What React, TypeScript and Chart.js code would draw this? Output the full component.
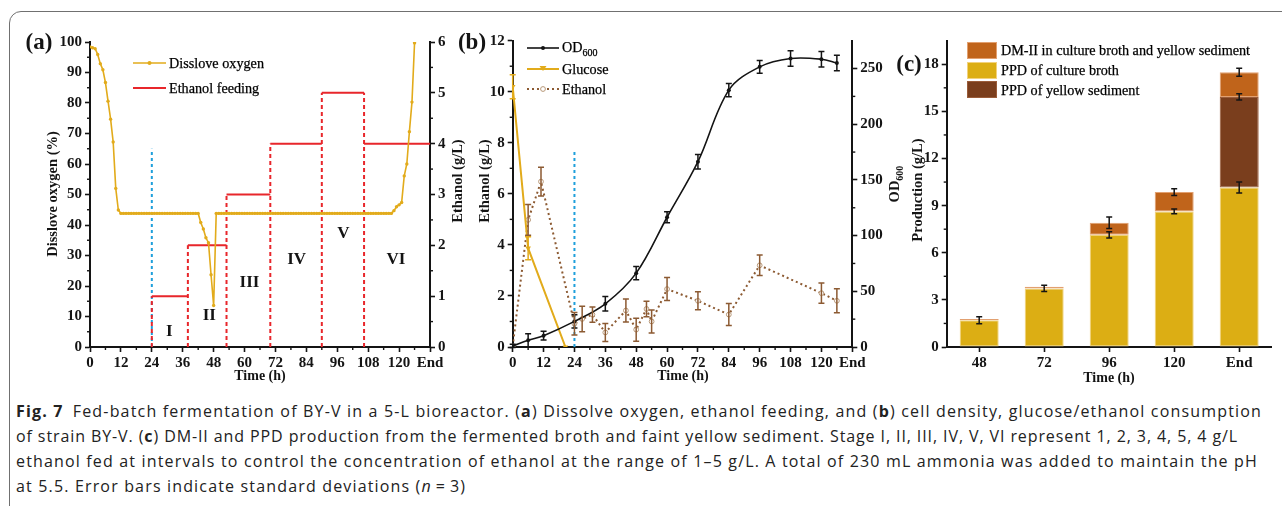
import React, { useEffect, useLayoutEffect, useRef } from 'react';
import { Chart, registerables } from 'chart.js';

Chart.register(...registerables);

const SERIF = "'Liberation Serif', 'Times New Roman', Times, serif";
const SANS = "'Open Sans', 'Noto Sans', sans-serif";
const INK = '#141414';
const GOLD = '#E2AB1B';
const RED = '#E8262B';
const BLUE = '#1E9FDB';
const BROWN = '#8C5A32';
const BROTH = '#DCAE14';
const SEDIMENT = '#7A3E1D';
const DMII = '#C0641B';

// ---------- shared time axis ----------
const timeTickValues = [0, 12, 24, 36, 48, 60, 72, 84, 96, 108, 120, 132];
const timeTickLabels = ['0', '12', '24', '36', '48', '60', '72', '84', '96', '108', '120', 'End'];

// ---------- panel (a) ----------
const doTime = [
  0, 1, 2, 3, 4, 5, 6, 7, 8, 9, 10, 11, 12, 13, 14, 15, 16, 17, 18, 19, 20, 21, 22, 23, 24, 25, 26, 27, 28, 29,
  30, 31, 32, 33, 34, 35, 36, 37, 38, 39, 40, 41, 42, 43, 44, 45, 46, 47, 48, 49, 50, 51, 52, 53, 54, 55, 56, 57, 58, 59,
  60, 61, 62, 63, 64, 65, 66, 67, 68, 69, 70, 71, 72, 73, 74, 75, 76, 77, 78, 79, 80, 81, 82, 83, 84, 85, 86, 87, 88, 89,
  90, 91, 92, 93, 94, 95, 96, 97, 98, 99, 100, 101, 102, 103, 104, 105, 106, 107, 108, 109, 110, 111, 112, 113, 114, 115, 116, 117, 118, 119,
  120, 121, 122, 123, 124, 125, 126,
];
const doValue = [
  98.4, 98.1, 97.8, 95.9, 92.9, 90.9, 86.7, 80.6, 74.7, 67.2, 52.0, 44.9, 43.8, 43.8, 43.8, 43.8, 43.8, 43.8, 43.8, 43.8, 43.8, 43.8, 43.8, 43.8, 43.8, 43.8, 43.8, 43.8, 43.8, 43.8,
  43.8, 43.8, 43.8, 43.8, 43.8, 43.8, 43.8, 43.8, 43.8, 43.8, 43.8, 43.8, 43.8, 40.8, 38.7, 35.8, 34.2, 23.7, 13.6, 43.8, 43.8, 43.8, 43.8, 43.8, 43.8, 43.8, 43.8, 43.8, 43.8, 43.8,
  43.8, 43.8, 43.8, 43.8, 43.8, 43.8, 43.8, 43.8, 43.8, 43.8, 43.8, 43.8, 43.8, 43.8, 43.8, 43.8, 43.8, 43.8, 43.8, 43.8, 43.8, 43.8, 43.8, 43.8, 43.8, 43.8, 43.8, 43.8, 43.8, 43.8,
  43.8, 43.8, 43.8, 43.8, 43.8, 43.8, 43.8, 43.8, 43.8, 43.8, 43.8, 43.8, 43.8, 43.8, 43.8, 43.8, 43.8, 43.8, 43.8, 43.8, 43.8, 43.8, 43.8, 43.8, 43.8, 43.8, 43.8, 43.8, 44.7, 46.0,
  46.6, 47.4, 56.1, 60.0, 70.6, 80.3, 99.7,
];
const feedStart = [24, 38, 53, 70, 90, 106.4];
const feedEnd = [38, 53, 70, 90, 106.4, 132];
const feedLevel = [1, 2, 3, 4, 5, 4];
const cutoffTime = 24;
const cutoffTopA = 65;
const stageNames = ['I', 'II', 'III', 'IV', 'V', 'VI'];
const stageLabelTime = [30.8, 46.3, 61.9, 80.2, 98.4, 118.8];
const stageLabelDO = [5.1, 10.3, 21, 28.6, 37.3, 28.6];

// ---------- panel (b) ----------
const odTime = [0, 6, 12, 24, 36, 48, 60, 72, 84, 96, 108, 120, 126];
const odValue = [1, 6, 10.2, 23, 38.8, 66.3, 116.5, 166.4, 230.6, 251.5, 259, 258.4, 255];
const odErr = [1.5, 6, 4, 6, 6.5, 6, 5, 6.5, 6, 5.7, 7, 7, 7];
const glucoseTime = [0, 6, 20.5];
const glucoseValue = [10.2, 3.87, 0];
const glucoseErr = [0.47, 0.45, 0];
const ethTime = [0, 6, 11, 24, 27, 31, 36, 44, 48, 52, 54, 60, 72, 84, 96, 120, 126];
const ethValue = [0.03, 4.98, 6.48, 0.91, 1.1, 1.27, 0.57, 1.43, 0.68, 1.49, 1.0, 2.27, 1.81, 1.27, 3.2, 2.11, 1.81];
const ethErr = [0, 0.6, 0.56, 0.44, 0.5, 0.3, 0.35, 0.45, 0.45, 0.3, 0.45, 0.45, 0.35, 0.43, 0.4, 0.4, 0.47];
const cutoffTopB = 7.75;

// ---------- panel (c) ----------
const cLabels = ['48', '72', '96', '120', 'End'];
const brothValue = [1.7, 3.73, 7.14, 8.63, 10.15];
const brothErr = [0.22, 0.2, 0.2, 0.15, 0.35];
const sedimentValue = [0, 0, 0, 0, 5.77];
const sedimentErr = [0, 0, 0, 0, 0.2];
const dmValue = [0.08, 0.11, 0.77, 1.23, 1.57];
const dmErr = [0, 0, 0.37, 0.22, 0.25];

// ---------- plugins ----------
const errorBarPlugin = {
  id: 'errorBars',
  afterDatasetsDraw(chart: any) {
    const ctx = chart.ctx;
    chart.data.datasets.forEach((ds: any, i: number) => {
      const errs = ds.errorBars;
      if (!errs) return;
      const meta = chart.getDatasetMeta(i);
      const ys = chart.scales[meta.yAxisID];
      ctx.save();
      ctx.strokeStyle = ds.errorColor || INK;
      ctx.lineWidth = ds.errorWidth || 1.5;
      meta.data.forEach((el: any, j: number) => {
        const e = errs[j];
        if (!e) return;
        const v = ys.getValueForPixel(el.y);
        const top = ys.getPixelForValue(v + e);
        const bot = ys.getPixelForValue(v - e);
        const x = el.x;
        const c = ds.errorCap ?? 3;
        ctx.beginPath();
        ctx.moveTo(x, top); ctx.lineTo(x, bot);
        ctx.moveTo(x - c, top); ctx.lineTo(x + c, top);
        ctx.moveTo(x - c, bot); ctx.lineTo(x + c, bot);
        ctx.stroke();
      });
      ctx.restore();
    });
  },
};

function makeMinorTicks(spec: Record<string, number>, len = 3) {
  return {
    id: 'minorTicks',
    afterDraw(chart: any) {
      const ctx = chart.ctx;
      const area = chart.chartArea;
      ctx.save();
      ctx.strokeStyle = INK;
      ctx.lineWidth = 1.4;
      Object.keys(spec).forEach((id) => {
        const s = chart.scales[id];
        if (!s) return;
        const step = spec[id];
        const majors = s.ticks.map((t: any) => t.value);
        for (let k = 1; k < 1000; k++) {
          const v = s.min + k * step;
          if (v > s.max - 1e-6) break;
          if (majors.some((m: number) => Math.abs(m - v) < 1e-6)) continue;
          const p = s.getPixelForValue(v);
          ctx.beginPath();
          if (s.position === 'bottom') { ctx.moveTo(p, area.bottom); ctx.lineTo(p, area.bottom + len); }
          else if (s.position === 'left') { ctx.moveTo(area.left, p); ctx.lineTo(area.left - len, p); }
          else { ctx.moveTo(area.right, p); ctx.lineTo(area.right + len, p); }
          ctx.stroke();
        }
      });
      ctx.restore();
    },
  };
}

function makeStageText() {
  return {
    id: 'stageText',
    afterDatasetsDraw(chart: any) {
      const ctx = chart.ctx;
      const xs = chart.scales.x;
      const ys = chart.scales.y;
      ctx.save();
      ctx.fillStyle = INK;
      ctx.font = `bold 17px ${SERIF}`;
      ctx.textAlign = 'center';
      ctx.textBaseline = 'middle';
      stageNames.forEach((t, i) => {
        ctx.fillText(t, xs.getPixelForValue(stageLabelTime[i]), ys.getPixelForValue(stageLabelDO[i]));
      });
      ctx.restore();
    },
  };
}

// ---------- axis helpers ----------
const tickFont = { family: SERIF, size: 15, weight: 'bold' as const };
function axis(extra: any) {
  return {
    border: { display: true, color: INK, width: 2 },
    grid: { drawOnChartArea: false, drawTicks: true, tickLength: 5, tickColor: INK, tickWidth: 1.6, offset: false },
    ...extra,
    ticks: { color: INK, font: tickFont, padding: 3, autoSkip: false, maxRotation: 0, ...(extra.ticks || {}) },
  };
}
function timeAxis(height: number) {
  return axis({
    type: 'linear', position: 'bottom', min: 0, max: 132,
    afterFit: (s: any) => { s.height = height; },
    afterBuildTicks: (s: any) => { s.ticks = timeTickValues.map((v) => ({ value: v })); },
    ticks: { padding: 2, callback: (_v: any, i: number) => timeTickLabels[i] },
  });
}
const common = {
  responsive: false,
  animation: false,
  devicePixelRatio: 1,
  events: [],
  plugins: { legend: { display: false }, tooltip: { enabled: false } },
};
const xy = (xs: number[], ys: (number | null)[]) => xs.map((x, i) => ({ x, y: ys[i] }));

function configA(): any {
  const steps: any[] = [];
  const verts: any[] = [];
  feedLevel.forEach((lv, i) => {
    steps.push({ x: feedStart[i], y: lv }, { x: feedEnd[i], y: lv }, { x: feedEnd[i], y: null });
    const top = i > 0 ? Math.max(lv, feedLevel[i - 1]) : lv;
    verts.push({ x: feedStart[i], y: 0 }, { x: feedStart[i], y: top }, { x: feedStart[i], y: null });
  });
  return {
    type: 'line',
    data: {
      datasets: [
        { data: xy(doTime, doValue), yAxisID: 'y', borderColor: GOLD, backgroundColor: GOLD, borderWidth: 1.6, pointRadius: 1.7, pointBorderWidth: 0, tension: 0 },
        { data: steps, yAxisID: 'y2', borderColor: RED, borderWidth: 2, pointRadius: 0, spanGaps: false },
        { data: verts, yAxisID: 'y2', borderColor: RED, borderWidth: 2, borderDash: [4, 3], pointRadius: 0, spanGaps: false },
        { data: [{ x: cutoffTime, y: 0 }, { x: cutoffTime, y: cutoffTopA }], yAxisID: 'y', borderColor: BLUE, borderWidth: 2, borderDash: [3, 3], pointRadius: 0 },
      ],
    },
    options: {
      ...common,
      layout: { padding: { top: 14, left: 0, right: 0, bottom: 0 }, autoPadding: false },
      scales: {
        x: timeAxis(31),
        y: axis({ position: 'left', min: 0, max: 100, afterFit: (s: any) => { s.width = 50; }, ticks: { stepSize: 10 } }),
        y2: axis({ position: 'right', min: 0, max: 6, afterFit: (s: any) => { s.width = 50; }, ticks: { stepSize: 1 } }),
      },
    },
    plugins: [makeMinorTicks({ x: 6, y: 5, y2: 0.5 }), makeStageText()],
  };
}

function configB(): any {
  return {
    type: 'line',
    data: {
      datasets: [
        { data: xy(odTime, odValue), yAxisID: 'y2', borderColor: INK, backgroundColor: INK, borderWidth: 1.6, pointRadius: 2, pointBorderWidth: 0, tension: 0.35, errorBars: odErr, errorColor: INK },
        { data: xy(glucoseTime, glucoseValue), yAxisID: 'y', borderColor: GOLD, backgroundColor: GOLD, borderWidth: 2, pointStyle: 'triangle', rotation: 180, pointRadius: 3.2, pointBorderWidth: 0, errorBars: glucoseErr, errorColor: GOLD },
        { data: xy(ethTime, ethValue), yAxisID: 'y', borderColor: BROWN, backgroundColor: '#ffffff', borderWidth: 2, borderDash: [2, 3], pointRadius: 2.4, pointBorderWidth: 1, pointBorderColor: '#b89878', errorBars: ethErr, errorColor: BROWN },
        { data: [{ x: cutoffTime, y: 0 }, { x: cutoffTime, y: cutoffTopB }], yAxisID: 'y', borderColor: BLUE, borderWidth: 2, borderDash: [3, 3], pointRadius: 0 },
      ],
    },
    options: {
      ...common,
      layout: { padding: { top: 12.7, left: 0, right: 0, bottom: 0 }, autoPadding: false },
      scales: {
        x: timeAxis(31),
        y: axis({ position: 'left', min: 0, max: 12, afterFit: (s: any) => { s.width = 42.7; }, ticks: { stepSize: 2 } }),
        y2: axis({
          position: 'right', min: 0, max: 275,
          afterFit: (s: any) => { s.width = 37.7; },
          afterBuildTicks: (s: any) => { s.ticks = s.ticks.filter((t: any) => t.value <= 250); },
          ticks: { stepSize: 50 },
        }),
      },
    },
    plugins: [makeMinorTicks({ x: 6, y: 1, y2: 25 }), errorBarPlugin],
  };
}

function configC(): any {
  const bar = { barPercentage: 0.6, categoryPercentage: 1, borderWidth: 1, borderSkipped: false, errorColor: INK, errorCap: 3 };
  return {
    type: 'bar',
    data: {
      labels: cLabels,
      datasets: [
        { ...bar, label: 'PPD of culture broth', data: brothValue, backgroundColor: BROTH, borderColor: '#F2D27C', errorBars: brothErr },
        { ...bar, label: 'PPD of yellow sediment', data: sedimentValue, backgroundColor: SEDIMENT, borderColor: '#9A5C3A', errorBars: sedimentErr },
        { ...bar, label: 'DM-II in culture broth and yellow sediment', data: dmValue, backgroundColor: DMII, borderColor: '#E2A070', errorBars: dmErr },
      ],
    },
    options: {
      ...common,
      layout: { padding: { top: 12.7, left: 0, right: 10.3, bottom: 0 }, autoPadding: false },
      scales: {
        x: axis({ stacked: true, position: 'bottom', afterFit: (s: any) => { s.height = 31; }, ticks: { padding: 2 } }),
        y: axis({
          stacked: true, position: 'left', min: 0, max: 19.5,
          afterFit: (s: any) => { s.width = 46.7; },
          afterBuildTicks: (s: any) => { s.ticks = s.ticks.filter((t: any) => t.value <= 18); },
          ticks: { stepSize: 3 },
        }),
      },
    },
    plugins: [makeMinorTicks({ y: 1.5 }), errorBarPlugin],
  };
}

// ---------- HTML text helpers ----------
function Label(props: any) {
  const { x, y, rot, size = 15, weight = 'bold', children, family = SERIF } = props;
  return (
    <div style={{
      position: 'absolute', left: x, top: y, whiteSpace: 'nowrap', lineHeight: 1, color: INK,
      fontFamily: family, fontSize: size, fontWeight: weight,
      transform: `translate(-50%, -50%)${rot ? ' rotate(-90deg)' : ''}`,
    }}>{children}</div>
  );
}

function LegendText(props: any) {
  const { x, y, children } = props;
  return (
    <div style={{
      position: 'absolute', left: x, top: y, transform: 'translateY(-50%)', whiteSpace: 'nowrap',
      fontFamily: SERIF, fontSize: 14.2, fontWeight: 'normal', lineHeight: 1, color: '#000',
      WebkitTextStroke: '0.25px #000',
    }}>{children}</div>
  );
}

function LineSample(props: any) {
  const { x, y, w, color, dash, marker, width = 2 } = props;
  const mid = w / 2;
  return (
    <svg style={{ position: 'absolute', left: x, top: y - 6 }} width={w} height={12}>
      <line x1={0} y1={6} x2={w} y2={6} stroke={color} strokeWidth={width} strokeDasharray={dash} />
      {marker === 'dot' && <circle cx={mid} cy={6} r={2} fill={color} />}
      {marker === 'tri' && <polygon points={`${mid - 3.5},3 ${mid + 3.5},3 ${mid},8`} fill={color} />}
      {marker === 'open' && <circle cx={mid} cy={6} r={2.4} fill="#fff" stroke="#b89878" strokeWidth={1} />}
    </svg>
  );
}

function Swatch(props: any) {
  const { x, y, h, color, edge } = props;
  return <div style={{ position: 'absolute', left: x, top: y, width: 30, height: h, background: color, boxSizing: 'border-box', border: `1px solid ${edge}` }} />;
}

// ---------- caption ----------
function Caption() {
  const r1 = useRef<HTMLDivElement>(null);
  const r2 = useRef<HTMLDivElement>(null);
  const r3 = useRef<HTMLDivElement>(null);
  const r4 = useRef<HTMLDivElement>(null);
  useLayoutEffect(() => {
    const fit = (el: HTMLDivElement | null, target: number) => {
      if (!el) return 0;
      el.style.letterSpacing = '0px';
      const w = el.getBoundingClientRect().width;
      const n = (el.textContent || '').length;
      const ls = (target - w) / n;
      el.style.letterSpacing = `${ls}px`;
      return ls;
    };
    fit(r1.current, 1246);
    fit(r2.current, 1222);
    const ls3 = fit(r3.current, 1242);
    if (r4.current) r4.current.style.letterSpacing = `${ls3}px`;
  }, []);
  const line = (top: number): any => ({
    position: 'absolute', left: 16, top, whiteSpace: 'nowrap', fontFamily: SANS, fontSize: 16,
    lineHeight: '25px', color: '#222', display: 'inline-block',
  });
  return (
    <>
      <div ref={r1} style={line(398.5)}>
        <b style={{ fontWeight: 700 }}>Fig. 7</b>{'\u2002'}Fed-batch fermentation of BY-V in a 5-L bioreactor. (<b>a</b>) Dissolve oxygen, ethanol feeding, and (<b>b</b>) cell density, glucose/ethanol consumption
      </div>
      <div ref={r2} style={line(423.5)}>
        of strain BY-V. (<b>c</b>) DM-II and PPD production from the fermented broth and faint yellow sediment. Stage I, II, III, IV, V, VI represent 1, 2, 3, 4, 5, 4 g/L
      </div>
      <div ref={r3} style={line(448.5)}>
        ethanol fed at intervals to control the concentration of ethanol at the range of 1–5 g/L. A total of 230 mL ammonia was added to maintain the pH
      </div>
      <div ref={r4} style={line(473.5)}>
        at 5.5. Error bars indicate standard deviations (<i>n</i>{'\u2009'}={'\u2009'}3)
      </div>
    </>
  );
}

export default function App() {
  const aRef = useRef<HTMLCanvasElement>(null);
  const bRef = useRef<HTMLCanvasElement>(null);
  const cRef = useRef<HTMLCanvasElement>(null);

  useEffect(() => {
    const charts: Chart[] = [];
    if (aRef.current) charts.push(new Chart(aRef.current, configA()));
    if (bRef.current) charts.push(new Chart(bRef.current, configB()));
    if (cRef.current) charts.push(new Chart(cRef.current, configC()));
    return () => charts.forEach((c) => c.destroy());
  }, []);

  const canvasStyle = (left: number, top: number, w: number, h: number): any => ({ position: 'absolute', left, top, width: w, height: h });

  return (
    <div style={{ position: 'fixed', left: 0, top: 0, width: 1282, height: 506, overflow: 'hidden', background: '#fff' }}>
      <div style={{ position: 'absolute', left: 9, top: 11, width: 1300, height: 520, border: '1.5px solid #707070', borderRadius: 12 }} />

      <canvas ref={aRef} width={440} height={350} style={canvasStyle(40, 28, 440, 350)} />
      <canvas ref={bRef} width={420} height={350} style={canvasStyle(470, 28, 420, 350)} />
      <canvas ref={cRef} width={382} height={350} style={canvasStyle(900, 28, 382, 350)} />

      {/* panel letters */}
      <Label x={39} y={41} size={23}>(a)</Label>
      <Label x={472} y={41} size={23}>(b)</Label>
      <Label x={909} y={63} size={23}>(c)</Label>

      {/* axis titles */}
      <Label x={52} y={194} size={14.5} rot>Disslove oxygen (%)</Label>
      <Label x={457} y={181} size={14.5} rot>Ethanol (g/L)</Label>
      <Label x={484} y={181} size={14.5} rot>Ethanol (g/L)</Label>
      <Label x={896} y={184} size={14.5} rot>OD<sub style={{ fontSize: 10 }}>600</sub></Label>
      <Label x={917} y={190} size={14.5} rot>Production (g/L)</Label>
      <Label x={260} y={376} size={14}>Time (h)</Label>
      <Label x={683} y={376} size={14}>Time (h)</Label>
      <Label x={1109} y={378} size={14}>Time (h)</Label>

      {/* legend (a) */}
      <LineSample x={133} y={63} w={33} color={GOLD} marker="dot" width={1.6} />
      <LegendText x={169} y={63}>Disslove oxygen</LegendText>
      <LineSample x={133} y={88} w={33} color={RED} />
      <LegendText x={169} y={88}>Ethanol feeding</LegendText>

      {/* legend (b) */}
      <LineSample x={527} y={48} w={32} color={INK} marker="dot" width={1.6} />
      <LegendText x={562} y={49}>OD<sub style={{ fontSize: 10 }}>600</sub></LegendText>
      <LineSample x={527} y={69} w={32} color={GOLD} marker="tri" />
      <LegendText x={562} y={69}>Glucose</LegendText>
      <LineSample x={527} y={89} w={32} color={BROWN} dash="2 3" marker="open" />
      <LegendText x={562} y={89}>Ethanol</LegendText>

      {/* legend (c) */}
      <Swatch x={967} y={42} h={17} color={DMII} edge="#E2A070" />
      <LegendText x={1001} y={50}>DM-II in culture broth and yellow sediment</LegendText>
      <Swatch x={967} y={61.5} h={17} color={BROTH} edge="#F2D27C" />
      <LegendText x={1001} y={70}>PPD of culture broth</LegendText>
      <Swatch x={967} y={81} h={17} color={SEDIMENT} edge="#9A5C3A" />
      <LegendText x={1001} y={89.5}>PPD of yellow sediment</LegendText>

      <Caption />
    </div>
  );
}
